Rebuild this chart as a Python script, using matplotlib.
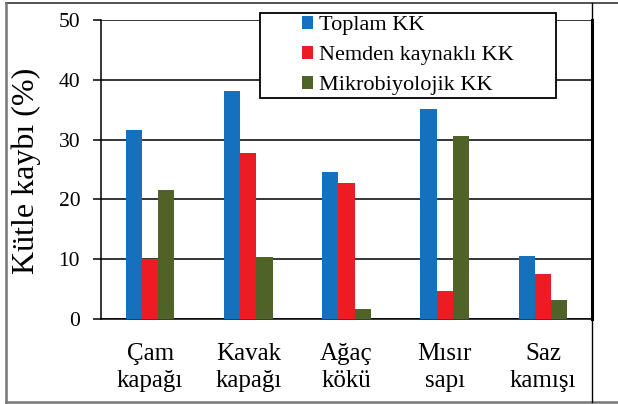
import numpy as np
import matplotlib.pyplot as plt
from matplotlib.lines import Line2D
from matplotlib.patches import Rectangle

plt.rcParams['font.family'] = ['Liberation Serif', 'DejaVu Serif']

categories = ['Çam\nkapağı', 'Kavak\nkapağı', 'Ağaç\nkökü', 'Mısır\nsapı', 'Saz\nkamışı']
series_names = ['Toplam KK', 'Nemden kaynaklı KK', 'Mikrobiyolojik KK']
toplam = [31.6, 38.1, 24.6, 35.2, 10.5]
nemden = [10.0, 27.7, 22.8, 4.6, 7.5]
mikro = [21.5, 10.3, 1.6, 30.6, 3.1]
colors = ['#1570BE', '#ED1C24', '#4F6228']

W, H = 618, 404
fig = plt.figure(figsize=(W / 100, H / 100), dpi=100)
ax = fig.add_axes([101 / W, (H - 319) / H, (592 - 101) / W, (319 - 20) / H])

x = np.arange(len(categories))
bw = 0.165
for i, (vals, name, c) in enumerate(zip([toplam, nemden, mikro], series_names, colors)):
    ax.bar(x + (i - 1) * bw, vals, width=bw, color=c, label=name, zorder=3)

ax.set_xlim(-0.5, len(categories) - 0.5)
ax.set_ylim(0, 50)
ax.set_yticks(range(0, 51, 10))
ax.yaxis.grid(True, color='black', linewidth=1.1, zorder=0)
ax.set_axisbelow(True)
ax.set_xticks(x)
ax.set_xticklabels(categories, fontsize=18, linespacing=1.3)
ax.tick_params(axis='x', length=0, pad=17)
ax.tick_params(axis='y', length=6, width=1.1, labelsize=15.5, pad=9)
ax.spines['top'].set_visible(False)
ax.spines['left'].set_linewidth(1.1)
ax.spines['bottom'].set_linewidth(1.1)
ax.spines['right'].set_linewidth(2.2)
ax.set_ylabel('Kütle kaybı (%)', fontsize=23, va='center')
ax.yaxis.set_label_coords(-0.152, 0.495)

# legend entries without frame, box drawn separately
leg = ax.legend(loc='center left', bbox_to_anchor=(0.41, 0.881), fontsize=16,
                frameon=False, handlelength=0.5, handleheight=0.5, handletextpad=0.25,
                labelspacing=0.48, borderpad=0, borderaxespad=0)
ax.add_patch(Rectangle((0.324, 0.739), 0.603, 0.2844, transform=ax.transAxes,
                       fill=True, facecolor='white', edgecolor='black', linewidth=1.3,
                       clip_on=False, zorder=4))
leg.set_zorder(5)

# outer frame
def fline(x0, y0, x1, y1, c='#555555', lw=1.5):
    fig.add_artist(Line2D([x0 / W, x1 / W], [1 - y0 / H, 1 - y1 / H],
                          transform=fig.transFigure, color=c, linewidth=lw))

fline(6, 2.5, W, 2.5, c='#333333', lw=1.2)
fline(6, 402, W, 402, c='#777777', lw=1.8)
fline(6, 2.5, 6, 402, c='#777777', lw=1.8)
fline(592, 2.5, 592, 402, c='black', lw=1.0)

fig.savefig('out.png', dpi=100)
